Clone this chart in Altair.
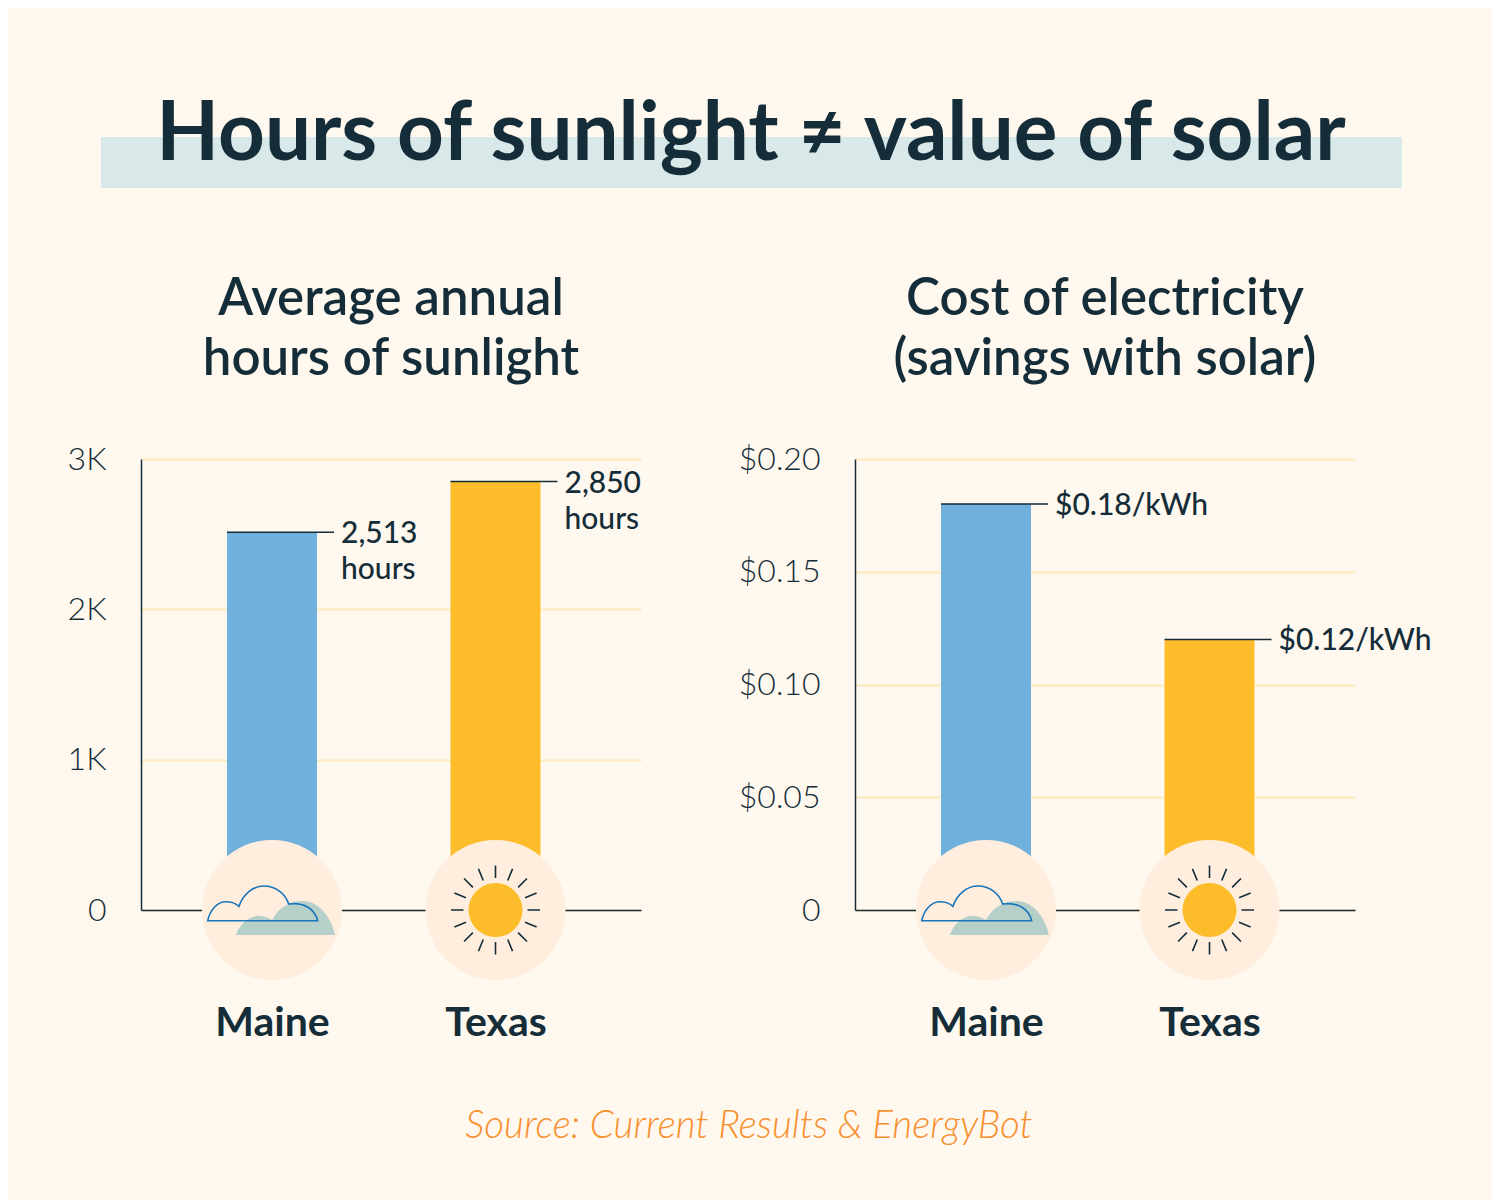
import math
import altair as alt
import pandas as pd

TITLE = "Hours of sunlight ≠ value of solar"
SOURCE = "Source: Current Results & EnergyBot"
STATES = ["Maine", "Texas"]
HOURS = [2513, 2850]
HOURS_LABELS = ["2,513\nhours", "2,850\nhours"]
COST = [0.18, 0.12]
COST_LABELS = ["$0.18/kWh", "$0.12/kWh"]
HOURS_TICKS = [0, 1000, 2000, 3000]
COST_TICKS = [0, 0.05, 0.10, 0.15, 0.20]

BG = "#fff8ef"
DARK = "#152d38"
BLUE = "#6fb1dc"
YELLOW = "#fdbc2a"
PEACH = "#ffeedd"
TEAL = "#b5cfc9"
BAND = "#d9e8e8"
GRID = "#fde9bb"
OUTLINE = "#1a75bb"
ORANGE = "#f7902f"
FONT = "Lato"

# Icon outlines, unit = 50 px around the anchor point
def P(s):
    out = []
    for tok in s.split():
        try:
            out.append(f"{float(tok) / 50:.4f}")
        except ValueError:
            out.append(tok)
    return " ".join(out)

BLOB = P("M -36.3 25 C -32 14 -24 6 -13.7 6 C -8 6 -4 7.5 0 10 C 7 -3 18 -9 30 -9 C 47 -9 59 7 63 25 Z")
CLOUD = P("M -64.3 10.7 C -62 0 -55 -8.3 -46 -8.3 C -41 -8.3 -36 -6.5 -33 -3.7 C -29 -16 -19 -24 -8 -24 "
          "C 3 -24 13 -17 16.7 -6 C 32 -8 43 -1 45.7 10.7 Z")
RAYS = " ".join(
    P(f"M {32 * math.cos(a):.2f} {32 * math.sin(a):.2f} L {44.5 * math.cos(a):.2f} {44.5 * math.sin(a):.2f}")
    for a in (i * math.pi / 8 for i in range(16))
)


def note(text, px, py, size, weight=400, colour=DARK, style="normal"):
    return alt.Chart(pd.DataFrame({"t": [text]})).mark_text(
        align="center", baseline="alphabetic", font=FONT, fontSize=size, fontWeight=weight, color=colour,
        fontStyle=style, lineBreak="\n", lineHeight=60).encode(x=alt.value(px), y=alt.value(py), text="t:N")


def panel(values, labels, ticks, domain_max, label_expr, heading, dy, extras=()):
    df = pd.DataFrame({"state": STATES, "value": values, "label": labels})
    base = alt.Chart(df)
    xs = alt.Scale(type="point", domain=STATES, padding=0.6186, align=0.4738)
    ys = alt.Scale(domain=[0, domain_max], nice=False)
    x = alt.X("state:N", scale=xs, title=None, axis=alt.Axis(
        domain=True, domainColor=DARK, domainWidth=1.5, ticks=False, grid=False, labelAngle=0,
        labelPadding=93, labelFont=FONT, labelFontSize=41, labelFontWeight=700, labelColor=DARK))
    y = alt.Y("value:Q", scale=ys, title=None, axis=alt.Axis(
        values=ticks, labelExpr=label_expr, domain=True, domainColor=DARK, domainWidth=1.5, ticks=False,
        grid=True, gridColor=GRID, gridWidth=2, labelPadding=35, labelFont=FONT, labelFontSize=32,
        labelFontWeight=300, labelColor=DARK))
    color = alt.Color("state:N", scale=alt.Scale(domain=STATES, range=[BLUE, YELLOW]), legend=None)
    bars = base.mark_bar(size=90).encode(x=x, y=y, color=color)
    leader = base.mark_tick(size=107, thickness=1.5, xOffset=8.5, color=DARK, opacity=1).encode(x=x, y=y)
    notes = base.mark_text(align="left", baseline="alphabetic", dx=69, dy=dy, font=FONT, fontSize=30,
                           fontWeight=500, color=DARK, lineBreak="\n", lineHeight=36).encode(
        x=x, y=y, text="label:N")
    zero = pd.DataFrame({"state": STATES, "value": [0, 0]})
    z = alt.Chart(zero)
    maine = z.transform_filter("datum.state == 'Maine'")
    texas = z.transform_filter("datum.state == 'Texas'")
    disc = z.mark_circle(size=19600, color=PEACH, opacity=1).encode(x=x, y=y)
    blob = maine.mark_point(shape=BLOB, size=10000, filled=True, color=TEAL, opacity=1, strokeWidth=0).encode(x=x, y=y)
    cloud = maine.mark_point(shape=CLOUD, size=10000, filled=False, color=OUTLINE, opacity=1, strokeWidth=1.6).encode(x=x, y=y)
    sun = texas.mark_circle(size=2916, color=YELLOW, opacity=1).encode(x=x, y=y)
    rays = texas.mark_point(shape=RAYS, size=10000, filled=False, color=DARK, opacity=1, strokeWidth=1.6).encode(x=x, y=y)
    head = note(heading, 250, -144, 51, 600)
    layers = list(extras) + [head, bars, leader, notes, disc, blob, cloud, sun, rays]
    return alt.layer(*layers).properties(width=500, height=451)


one = pd.DataFrame({"a": [1]})
canvas = alt.Chart(one).mark_rect(opacity=0).encode(
    x=alt.value(-133), x2=alt.value(1351), y=alt.value(-451), y2=alt.value(741))
band = alt.Chart(one).mark_rect(color=BAND).encode(
    x=alt.value(-40), x2=alt.value(1261), y=alt.value(-322), y2=alt.value(-271))
title = note(TITLE, 610, -299, 81.7, 700)
source = note(SOURCE, 608, 679, 38.5, 300, ORANGE, "italic")

left = panel(HOURS, HOURS_LABELS, HOURS_TICKS, 3000,
             "datum.value == 0 ? '0' : (datum.value / 1000) + 'K'",
             "Average annual\nhours of sunlight", 11, extras=[canvas, band, title, source])
right = panel(COST, COST_LABELS, COST_TICKS, 0.20,
              "datum.value == 0 ? '0' : format(datum.value, '$.2f')",
              "Cost of electricity\n(savings with solar)", 11)

chart = alt.hconcat(left, right, spacing=214, bounds="flush").properties(
    background=BG, padding=0
).configure_view(stroke=None)

chart.save("out.html", embed_options={"renderer": "svg", "actions": False})
